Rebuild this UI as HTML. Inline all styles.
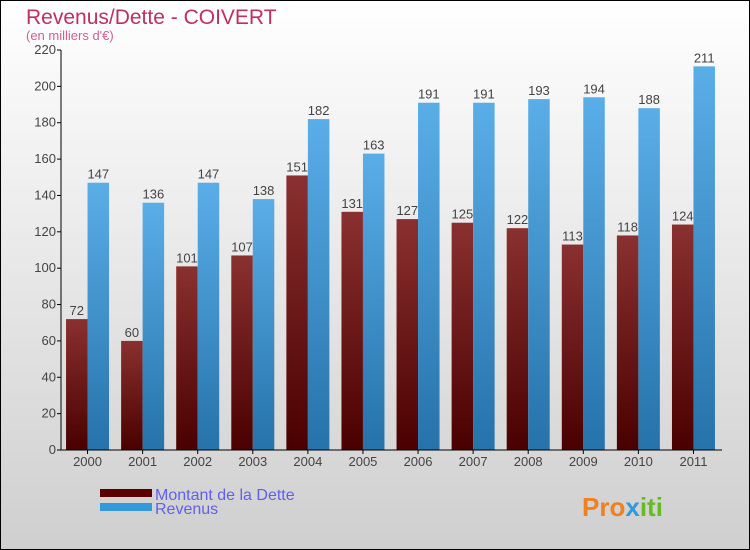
<!DOCTYPE html>
<html><head><meta charset="utf-8"><style>
body{margin:0;width:750px;height:550px;overflow:hidden}
svg{display:block;font-family:"Liberation Sans",sans-serif}
</style></head><body>
<svg width="750" height="550" viewBox="0 0 750 550">
<defs>
<linearGradient id="bg" x1="0" y1="0" x2="0" y2="1"><stop offset="0" stop-color="#ffffff"/><stop offset="1" stop-color="#cfcfcf"/></linearGradient>
<linearGradient id="gd" x1="0" y1="0" x2="0" y2="1"><stop offset="0" stop-color="#8a3030"/><stop offset="1" stop-color="#4a0000"/></linearGradient>
<linearGradient id="gr" x1="0" y1="0" x2="0" y2="1"><stop offset="0" stop-color="#5aaee8"/><stop offset="1" stop-color="#2672aa"/></linearGradient>
</defs>
<rect x="0.5" y="0.5" width="749" height="549" fill="url(#bg)" stroke="#000"/>
<text x="26" y="24" font-size="21" fill="#c0305f">Revenus/Dette - COIVERT</text>
<text x="26" y="40" font-size="13" fill="#d06090">(en milliers d'€)</text>
<g id="plot"></g>
<rect x="100" y="489" width="52" height="8" fill="#5a0000"/>
<text x="155" y="500" font-size="16" fill="#6060ee">Montant de la Dette</text>
<rect x="100" y="503" width="52" height="8" fill="#3399dd"/>
<text x="155" y="514" font-size="16" fill="#6060ee">Revenus</text>
<text x="582" y="516" font-size="26" font-weight="bold" fill="#f08020">Pro<tspan fill="#3399dd">x</tspan><tspan fill="#66bb22">iti</tspan></text>
</svg>
<script>
const years=["2000","2001","2002","2003","2004","2005","2006","2007","2008","2009","2010","2011"];
const dette=[72,60,101,107,151,131,127,125,122,113,118,124];
const revenus=[147,136,147,138,182,163,191,191,193,194,188,211];
const yTicks=[0,20,40,60,80,100,120,140,160,180,200,220];
const NS="http://www.w3.org/2000/svg";
const g=document.getElementById('plot');
const x0=61,x1=722,yb=450,yt=50,ymax=220;
const band=(x1-x0)/years.length;
const y=v=>yb-(v/ymax)*(yb-yt);
const cx=i=>x0+band*(i+0.5)-1;
function el(t,a,txt){const e=document.createElementNS(NS,t);for(const k in a)e.setAttribute(k,a[k]);if(txt!==undefined)e.textContent=txt;g.appendChild(e);return e;}
yTicks.forEach(v=>{
  const t=el('line',{x1:x0-4,x2:x0,y1:y(v),y2:y(v),stroke:'#000'});
  
  
  const l=el('text',{x:x0-5,y:y(v)+4,'font-size':13,'text-anchor':'end',fill:'#444'},v);
  
  
});
years.forEach((yr,i)=>{
  const c=cx(i),w=21.5;
  const b1=el('rect',{x:c-w,y:y(dette[i]),width:w,height:yb-y(dette[i]),fill:'url(#gd)'});
  
  
  const b2=el('rect',{x:c,y:y(revenus[i]),width:w,height:yb-y(revenus[i]),fill:'url(#gr)'});
  
  
  const v1=el('text',{x:c-w/2,y:y(dette[i])-4,'font-size':13,'text-anchor':'middle',fill:'#444'},dette[i]);
  
  
  const v2=el('text',{x:c+w/2,y:y(revenus[i])-4,'font-size':13,'text-anchor':'middle',fill:'#444'},revenus[i]);
  
  
  const tk=el('line',{x1:c,x2:c,y1:yb,y2:yb+4,stroke:'#000'});
  
  
  const xl=el('text',{x:c,y:yb+16,'font-size':13,'text-anchor':'middle',fill:'#444'},yr);
  
  
});
const ax=el('line',{x1:x0,x2:x0,y1:yt,y2:yb,stroke:'#000'});


const bx=el('line',{x1:x0,x2:x1,y1:yb,y2:yb,stroke:'#000'});


</script>
</body></html>
